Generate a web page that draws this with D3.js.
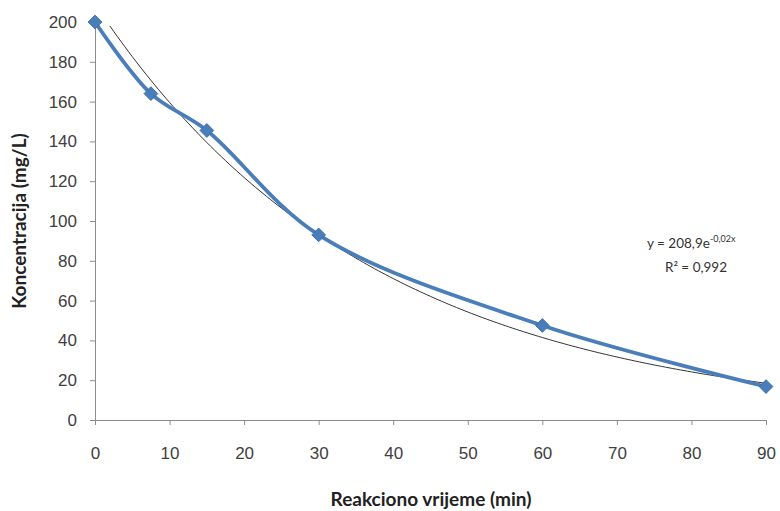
<!DOCTYPE html>
<html><head><meta charset="utf-8">
<script src="https://cdn.jsdelivr.net/npm/d3@7"></script>
<style>body{margin:0;background:#fff}svg{display:block;font-family:Lato,"Open Sans",sans-serif}</style>
</head><body>
<svg id="c" width="780" height="511"></svg>
<script>
const times = [0, 7.5, 15, 30, 60, 90];
const concentrations = [200, 164, 145.5, 93, 47.5, 16.8];
const xTicks = [0,10,20,30,40,50,60,70,80,90];
const yTicks = [0,20,40,60,80,100,120,140,160,180,200];
const xTitle = "Reakciono vrijeme (min)";
const yTitle = "Koncentracija (mg/L)";
const eqMain = "y = 208,9e";
const eqExp = "-0,02x";
const r2Text = "R² = 0,992";

const svg = d3.select("#c");
const x = d3.scaleLinear().domain([0,90]).range([95,766]);
const y = d3.scaleLinear().domain([0,200]).range([420,22]);
const axisColor = "#8c8c8c";

const xa = svg.append("g").attr("transform","translate(0,420)")
  .call(d3.axisBottom(x).tickValues(xTicks).tickSize(5).tickPadding(22).tickFormat(d3.format("d")));
const ya = svg.append("g").attr("transform","translate(95,0)")
  .call(d3.axisLeft(y).tickValues(yTicks).tickSize(5).tickPadding(13).tickFormat(d3.format("d")));
[xa,ya].forEach(a=>{
  a.selectAll("path,line").attr("stroke",axisColor);
  a.selectAll("text").attr("fill","#404040").style("font-size","17px");
});

// exponential least-squares fit (as Excel trendline)
const lnY = concentrations.map(Math.log);
const mx = d3.mean(times), my = d3.mean(lnY);
const k = d3.sum(times,(t,i)=>(t-mx)*(lnY[i]-my)) / d3.sum(times,t=>(t-mx)*(t-mx));
const a0 = Math.exp(my - k*mx);
const fitPts = d3.range(0,90.01,0.5).map(t=>[t,a0*Math.exp(k*t)]).filter(p=>p[1]<=200);
svg.append("path").datum(fitPts)
  .attr("fill","none").attr("stroke","#333").attr("stroke-width",1)
  .attr("d",d3.line().x(d=>x(d[0])).y(d=>y(d[1])));

const data = times.map((t,i)=>[t,concentrations[i]]);
svg.append("path").datum(data)
  .attr("fill","none").attr("stroke","#4a7ebb").attr("stroke-width",3.8)
  .attr("d",d3.line().x(d=>x(d[0])).y(d=>y(d[1])).curve(d3.curveCatmullRom));
svg.append("g").selectAll("path").data(data).join("path")
  .attr("transform",d=>`translate(${x(d[0])},${y(d[1])})`)
  .attr("d",d3.symbol(d3.symbolDiamond2,120))
  .attr("fill","#4a7ebb").attr("stroke","#3f6fa8").attr("stroke-width",1);

const eq = svg.append("text").attr("x",647).attr("y",248).attr("fill","#333").style("font-size","13.5px");
eq.append("tspan").text(eqMain);
eq.append("tspan").attr("dy",-6).style("font-size","9px").text(eqExp);
svg.append("text").attr("x",696).attr("y",272).attr("text-anchor","middle").attr("fill","#333").style("font-size","13.5px").text(r2Text);

svg.append("text").attr("x",431).attr("y",506).attr("text-anchor","middle")
  .style("font-size","19px").style("font-weight","bold").attr("fill","#222").text(xTitle);
svg.append("text").attr("transform","translate(26,221) rotate(-90)").attr("text-anchor","middle")
  .style("font-size","19px").style("font-weight","bold").attr("fill","#222").text(yTitle);
</script>
</body></html>
